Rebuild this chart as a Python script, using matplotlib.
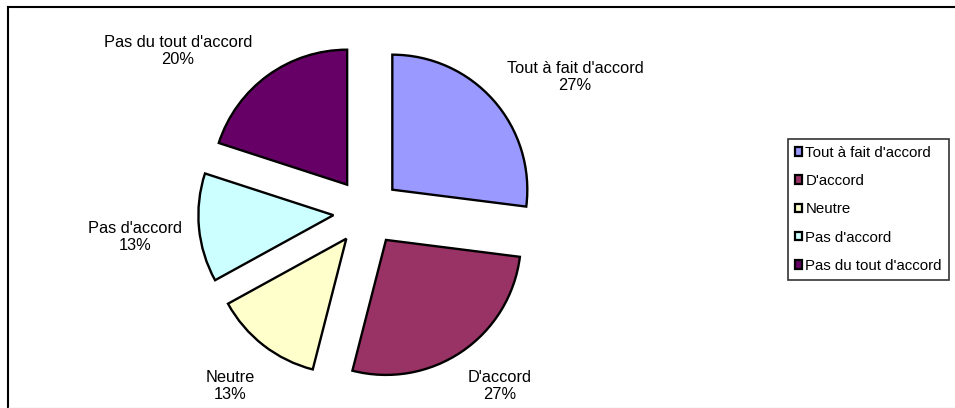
import matplotlib
matplotlib.use("Agg")
import matplotlib.pyplot as plt
from matplotlib.lines import Line2D
from matplotlib.patches import Rectangle

categories = ["Tout à fait d'accord", "D'accord", "Neutre", "Pas d'accord", "Pas du tout d'accord"]
values = [27, 27, 13, 13, 20]
pct_labels = ["27%", "27%", "13%", "13%", "20%"]
colors = ["#9999FF", "#993366", "#FFFFCC", "#CCFFFF", "#660066"]

plt.rcParams['font.family'] = ['Liberation Sans', 'DejaVu Sans']

W, H = 955, 408
fig = plt.figure(figsize=(W / 100, H / 100), dpi=100)
ax = fig.add_axes([0, 0, 1, 1])

cx, cy, R = 367, 212, 135  # pixel center and radius

wedges, _ = ax.pie(values, colors=colors, startangle=90, counterclock=False,
                   explode=[0.25] * len(values), radius=1, frame=False,
                   wedgeprops=dict(edgecolor='black', linewidth=1.7))
ax.set_xlim(-cx / R, (W - cx) / R)
ax.set_ylim(-(H - cy) / R, cy / R)
ax.set_aspect('auto')
ax.axis('off')

# label positions in pixels (layout)
label_px = [(575, 77), (500, 386), (230, 386), (135, 237), (178, 51)]
for cat, pct, (px, py) in zip(categories, pct_labels, label_px):
    ax.text((px - cx) / R, (cy - py) / R, f"{cat}\n{pct}", ha='center', va='center',
            fontsize=11.8, linespacing=1.1, color='black')

handles = [Rectangle((0, 0), 1, 1, facecolor=c, edgecolor='black', linewidth=1.6) for c in colors]
leg = fig.legend(handles, categories, loc='upper left',
                 bbox_to_anchor=(788 / W, 1 - 139 / H), frameon=True, fancybox=False,
                 fontsize=10.8, handlelength=0.5, handleheight=0.5, handletextpad=0.2,
                 labelspacing=0.95, borderpad=0.45, borderaxespad=0)
leg.get_frame().set_edgecolor('black')
leg.get_frame().set_linewidth(1.2)

# outer frame (top and left visible; faint bottom)
fig.add_artist(Line2D([7.5 / W, 1.0], [1 - 6.5 / H, 1 - 6.5 / H], transform=fig.transFigure,
                      color='black', linewidth=1.5))
fig.add_artist(Line2D([7.5 / W, 7.5 / W], [0, 1 - 6.5 / H], transform=fig.transFigure,
                      color='black', linewidth=1.5))
fig.add_artist(Line2D([7.5 / W, 1.0], [0.5 / H, 0.5 / H], transform=fig.transFigure,
                      color='#dddddd', linewidth=1))

fig.savefig("out.png", dpi=100)
